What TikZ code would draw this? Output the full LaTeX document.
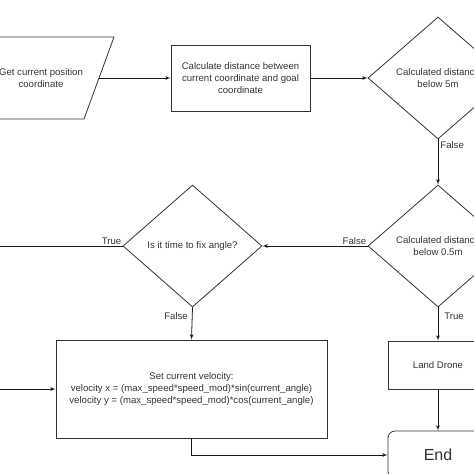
\documentclass[tikz,border=0pt]{standalone}
\usepackage{fontspec}
\setmainfont{Liberation Sans}
\usepackage{tikz}
\usetikzlibrary{arrows}
\usetikzlibrary{shapes.geometric}
\tikzset{flow/.style = {-latex', line width = 0.8pt, black!90}}
\tikzset{box/.style = {draw = black!80, line width = 0.8pt, align = center, inner sep = 0,
                       font = \fontsize{9.6}{11.6}\selectfont, text = black!80}}
\tikzset{choice/.style = {box, diamond, aspect = 1.15}}
\tikzset{lbl/.style = {inner sep = 1pt, font = \fontsize{9.6}{11.6}\selectfont, text = black!80}}

\begin{document}
\begin{tikzpicture}[x = 1pt, y = -1pt]
          \useasboundingbox (0, 0) rectangle (474, 474);
          \clip (0, 0) rectangle (474, 474);
          \draw [draw = black!80, line width = 0.8pt] (-47, 37) -- (114, 37) -- (84, 119) -- (-77, 119) -- cycle;
          \node [box, draw = none] (getpos) at (41, 78) {Get current position\\coordinate};
          \coordinate (getposside) at (99, 78);
          \node [box, minimum width = 139, minimum height = 66] (calcdist) at (240.5, 78)
                {Calculate distance between\\current coordinate and goal\\coordinate};
          \node [choice, minimum width = 140, minimum height = 122] (below5) at (438, 78)
                {Calculated distance\\below 5m};
          \node [choice, minimum width = 140, minimum height = 122] (below05) at (438, 246)
                {Calculated distance\\below 0.5m};
          \node [choice, minimum width = 139, minimum height = 122] (fixangle) at (192.5, 246)
                {Is it time to fix angle?};
          \node [box, minimum width = 271, minimum height = 98] (setvel) at (191.5, 389)
                {Set current velocity:\\velocity x = (max\_speed*speed\_mod)*sin(current\_angle)\\
                 velocity y = (max\_speed*speed\_mod)*cos(current\_angle)};
          \node [box, minimum width = 100, minimum height = 48] (land) at (438, 365) {Land Drone};
          \node [box, rounded corners = 7, minimum width = 100, minimum height = 48,
                 font = \fontsize{16}{19}\selectfont] (finish) at (438, 455) {End};
          \coordinate (retangle) at (-5, 246);
          \coordinate (reloop) at (-5, 389);
          \draw [flow] (getposside) -- (calcdist.west);
          \draw [flow] (calcdist.east) -- (below5.west);
          \draw [flow] (below5.south) -- node [lbl, pos = 0.13, anchor = west, xshift = 1] {False} (below05.north);
          \draw [flow] (below05.west) -- node [lbl, pos = 0, anchor = south east] {False} (fixangle.east);
          \draw [flow, -] (fixangle.west) -- node [lbl, pos = 0, anchor = south east] {True} (retangle);
          \draw [flow] (fixangle.south) -- node [lbl, pos = 0.27, anchor = east, xshift = -3] {False} (setvel.north);
          \draw [flow] (reloop) -- (setvel.west);
          \draw [flow] (setvel.south) |- (finish.west);
          \draw [flow] (below05.south) -- node [lbl, pos = 0.27, anchor = west, xshift = 5] {True} (land.north);
          \draw [flow] (land.south) -- (finish.north);
        \end{tikzpicture}
\end{document}
